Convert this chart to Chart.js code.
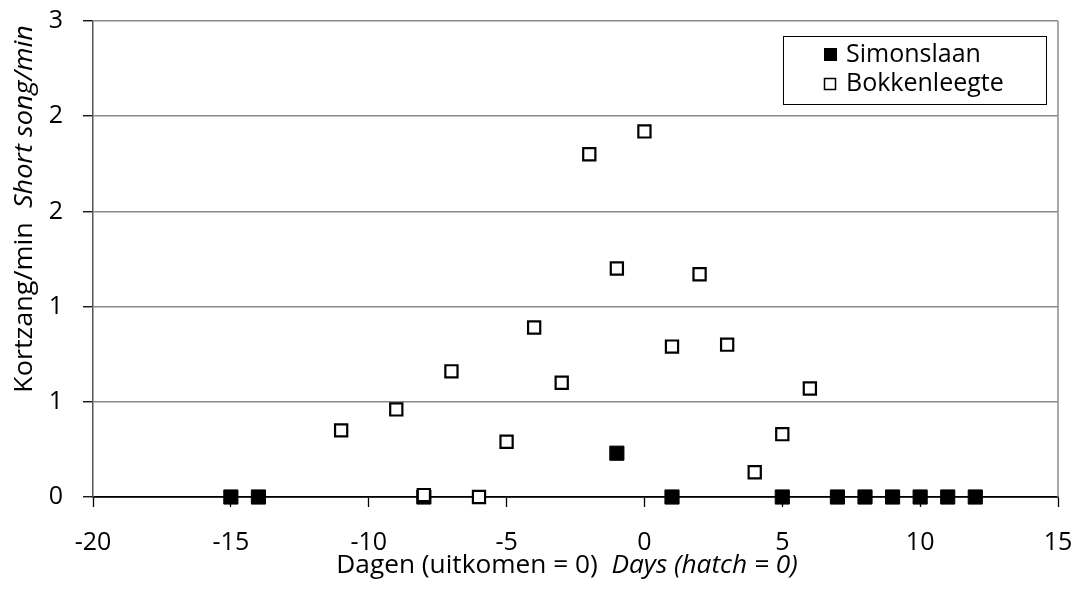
<!DOCTYPE html>
<html>
<head>
<meta charset="utf-8">
<script src="https://cdn.jsdelivr.net/npm/chart.js@4"></script>
<style>
html,body{margin:0;padding:0;background:#fff;}
#wrap{width:1078px;height:605px;position:relative;}
</style>
</head>
<body>
<div id="wrap"><canvas id="c" width="1078" height="605"></canvas></div>
<script>
// ---- data ----
const simonslaanDays = [-15, -14, -8, -1, 1, 5, 7, 8, 9, 10, 11, 12];
const simonslaanValues = [0, 0, 0, 0.23, 0, 0, 0, 0, 0, 0, 0, 0];
const bokkenleegteDays = [-11, -9, -8, -7, -6, -5, -4, -3, -2, -1, 0, 1, 2, 3, 4, 5, 6];
const bokkenleegteValues = [0.35, 0.46, 0.01, 0.66, 0, 0.29, 0.89, 0.6, 1.8, 1.2, 1.92, 0.79, 1.17, 0.8, 0.13, 0.33, 0.57];
const seriesNames = ['Simonslaan', 'Bokkenleegte'];
const yTickLabels = ['0', '1', '1', '2', '2', '3'];
const xTitleParts = ['Dagen (uitkomen = 0)  ', 'Days (hatch = 0)'];
const yTitleParts = ['Kortzang/min  ', 'Short song/min'];

const FONT = '"Open Sans", Lato, sans-serif';
const FS = 25;
const STRETCH = 1.05;

function pts(xs, ys) { return xs.map((x, i) => ({ x: x, y: ys[i] })); }

const decor = {
  id: 'decor',
  beforeDatasetsDraw(chart) {
    const { ctx, chartArea: a } = chart;
    ctx.save();
    ctx.strokeStyle = '#8a8a8a';
    ctx.lineWidth = 1.5;
    ctx.beginPath();
    ctx.moveTo(a.right, a.top);
    ctx.lineTo(a.right, a.bottom);
    ctx.stroke();
    ctx.restore();
  },
  afterDraw(chart) {
    const { ctx } = chart;
    const fN = FS + 'px ' + FONT, fI = 'italic ' + FS + 'px ' + FONT;
    // x title
    ctx.save();
    ctx.fillStyle = '#000';
    ctx.textBaseline = 'middle';
    ctx.textAlign = 'left';
    ctx.font = fN; const w1 = ctx.measureText(xTitleParts[0]).width;
    ctx.font = fI; const w2 = ctx.measureText(xTitleParts[1]).width;
    ctx.translate(567, 566);
    ctx.scale(STRETCH, 1);
    let x0 = -(w1 + w2) / 2;
    ctx.font = fN; ctx.fillText(xTitleParts[0], x0, 0);
    ctx.font = fI; ctx.fillText(xTitleParts[1], x0 + w1, 0);
    ctx.restore();
    // y title
    ctx.save();
    ctx.fillStyle = '#000';
    ctx.textBaseline = 'middle';
    ctx.textAlign = 'left';
    ctx.font = fN; const h1 = ctx.measureText(yTitleParts[0]).width;
    ctx.font = fI; const h2 = ctx.measureText(yTitleParts[1]).width;
    ctx.translate(25, 209);
    ctx.rotate(-Math.PI / 2);
    ctx.scale(STRETCH * 1.03, 1);
    let s0 = -(h1 + h2) / 2;
    ctx.font = fN; ctx.fillText(yTitleParts[0], s0, 0);
    ctx.font = fI; ctx.fillText(yTitleParts[1], s0 + h1, 0);
    ctx.restore();

    // legend
    ctx.save();
    const lx = 783, ly = 36, lw = 263, lh = 68;
    ctx.fillStyle = '#fff';
    ctx.fillRect(lx, ly, lw, lh);
    ctx.strokeStyle = '#000';
    ctx.lineWidth = 1;
    ctx.strokeRect(lx + 0.5, ly + 0.5, lw, lh);
    const rows = [55, 84];
    chart.data.datasets.forEach((ds, i) => {
      const cy = rows[i];
      if (ds.backgroundColor === '#000') {
        ctx.fillStyle = '#000';
        ctx.fillRect(824, cy - 7, 13, 13);
      } else {
        ctx.fillStyle = '#fff';
        ctx.fillRect(824, cy - 6, 12, 12);
        ctx.strokeStyle = '#000';
        ctx.lineWidth = 1.5;
        ctx.strokeRect(824.5, cy - 5.5, 11, 11);
      }
      ctx.fillStyle = '#000';
      ctx.font = FS + 'px ' + FONT;
      ctx.textAlign = 'left';
      ctx.textBaseline = 'middle';
      ctx.fillText(ds.label, 846, cy);
    });
    ctx.restore();
  }
};

new Chart(document.getElementById('c'), {
  type: 'scatter',
  data: {
    datasets: [
      {
        label: seriesNames[0],
        data: pts(simonslaanDays, simonslaanValues),
        pointStyle: 'rect',
        pointRadius: 10,
        pointHoverRadius: 10,
        backgroundColor: '#000',
        borderColor: '#000',
        borderWidth: 1,
        order: 1,
        clip: false
      },
      {
        label: seriesNames[1],
        data: pts(bokkenleegteDays, bokkenleegteValues),
        pointStyle: 'rect',
        pointRadius: 8.6,
        pointHoverRadius: 8.6,
        backgroundColor: '#fff',
        borderColor: '#000',
        borderWidth: 2.2,
        order: 0,
        clip: false
      }
    ]
  },
  options: {
    responsive: false,
    animation: false,
    events: [],
    layout: { padding: { top: 21, right: 20, left: 0, bottom: 0 } },
    plugins: { legend: { display: false }, tooltip: { enabled: false } },
    scales: {
      x: {
        type: 'linear',
        min: -20, max: 15,
        ticks: { stepSize: 5, color: '#000', font: { family: FONT, size: FS }, padding: 21, maxRotation: 0 },
        grid: { drawOnChartArea: false, drawTicks: true, tickLength: 10, tickColor: '#000', tickWidth: 1.3 },
        border: { color: '#000', width: 1.8 },
        afterFit(s) { s.height = 108; s.paddingLeft = 0; s.paddingRight = 0; }
      },
      y: {
        type: 'linear',
        min: 0, max: 2.5,
        ticks: {
          stepSize: 0.5, color: '#000', font: { family: FONT, size: FS }, padding: 20,
          callback: (v, i) => yTickLabels[i]
        },
        grid: { color: '#8a8a8a', lineWidth: 1.5, drawTicks: true, tickLength: 10, tickColor: '#000', tickWidth: 1.3 },
        border: { color: '#555', width: 1.5 },
        afterFit(s) { s.width = 93; s.paddingTop = 0; s.paddingBottom = 0; }
      }
    }
  },
  plugins: [decor]
});
</script>
</body>
</html>
